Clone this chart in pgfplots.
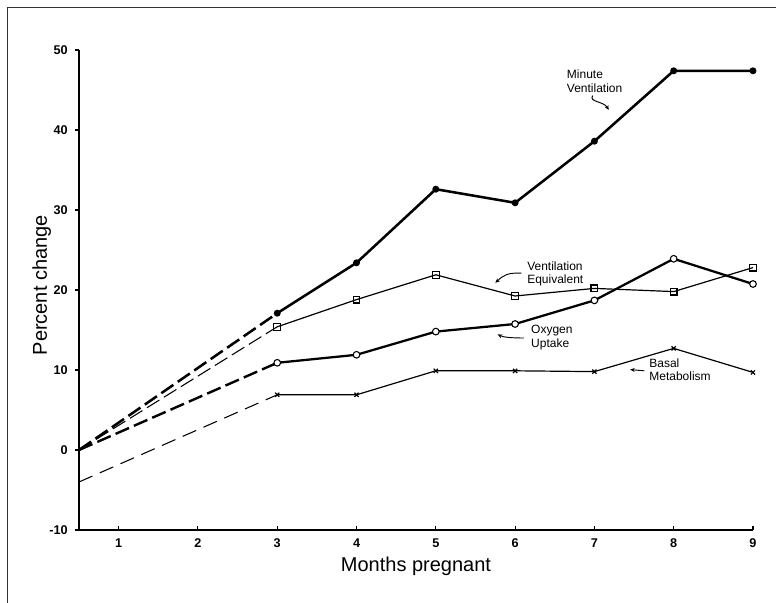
\documentclass[border=0pt]{standalone}
\usepackage{pgfplots}
\pgfplotsset{compat=1.18}
\usepackage{fontspec}
\setmainfont{Liberation Sans}
\usetikzlibrary{arrows.meta}
\begin{document}
\begin{tikzpicture}
\begin{axis}[
  at={(0,0)}, anchor=south west,
  scale only axis, width=505.5pt, height=360pt,
  xmin=0.5, xmax=9, ymin=-10, ymax=50,
  axis lines=left, axis line style={-, line width=1.1pt},
  xtick={1,...,9}, ytick={-10,0,10,20,30,40,50},
  xtick align=inside, ytick align=outside,
  major tick length=3pt,
  tick style={line width=0.8pt, black},
  /pgf/number format/assume math mode=true,
  ticklabel style={font=\fontsize{9.5}{11}\selectfont\bfseries},
  xticklabel style={yshift=-3pt},
  yticklabel style={xshift=-2pt},
  xlabel={Months pregnant}, ylabel={Percent change},
  label style={font=\fontsize{15}{18}\selectfont},
  xlabel style={at={(axis description cs:0.5,0)}, anchor=center, yshift=-27pt},
  ylabel style={at={(axis description cs:0,0.51)}, anchor=center, rotate=0, yshift=28pt, xshift=0pt},
  clip=false,
]
% Minute ventilation
\addplot[black, line width=1.9pt, dash pattern=on 11pt off 4pt] coordinates {(0.5,0) (3,17.1)};
\addplot[black, line width=1.9pt, mark=*, mark size=1.6pt] coordinates {
(3,17.1) (4,23.4) (5,32.6) (6,30.9) (7,38.6) (8,47.4) (9,47.4)};
% Oxygen uptake
\addplot[black, line width=1.8pt, dash pattern=on 11pt off 4pt] coordinates {(0.5,0) (3,10.9)};
\addplot[black, line width=1.7pt, mark=*, mark size=2.5pt, mark options={fill=white, line width=0.8pt}] coordinates {
(3,10.9) (4,11.9) (5,14.8) (6,15.75) (7,18.7) (8,23.9) (9,20.75)};
% Ventilation equivalent
\addplot[black, line width=0.8pt, dash pattern=on 11pt off 4pt] coordinates {(0.5,0) (3,15.4)};
\addplot[black, line width=0.9pt, mark=square, mark size=2.5pt, mark options={fill=white, line width=0.9pt}] coordinates {
(3,15.4) (4,18.8) (5,21.9) (6,19.25) (7,20.2) (8,19.8) (9,22.8)};
% Basal metabolism
\addplot[black, line width=0.8pt, dash pattern=on 11pt off 6pt] coordinates {(0.5,-4.0) (3,6.9)};
\addplot[black, line width=0.9pt, mark=x, mark size=2.2pt, mark options={line width=0.9pt}] coordinates {
(3,6.9) (4,6.9) (5,9.9) (6,9.9) (7,9.8) (8,12.7) (9,9.7)};
% annotations
\node[anchor=west, align=left, font=\fontsize{9}{10}\selectfont, inner sep=0pt] at (axis cs:6.65,46.1) {Minute\\Ventilation};
\draw[-{Stealth[length=3.5pt,width=3pt]}, line width=0.7pt] (axis cs:6.98,44.3) .. controls (axis cs:6.92,43.5) and (axis cs:7.12,43.6) .. (axis cs:7.18,42.5);
\node[anchor=west, align=left, font=\fontsize{9}{10}\selectfont, inner sep=0pt] at (axis cs:6.15,22.0) {Ventilation\\Equivalent};
\draw[-{Stealth[length=3.5pt,width=3pt]}, line width=0.7pt] (axis cs:6.08,22.1) .. controls (axis cs:5.9,22.2) and (axis cs:5.85,21.8) .. (axis cs:5.75,20.9);
\node[anchor=west, align=left, font=\fontsize{9}{10}\selectfont, inner sep=0pt] at (axis cs:6.2,14.05) {Oxygen\\Uptake};
\draw[-{Stealth[length=3.5pt,width=3pt]}, line width=0.7pt] (axis cs:6.11,14.0) .. controls (axis cs:5.95,14.0) and (axis cs:5.85,14.1) .. (axis cs:5.78,14.45);
\node[anchor=west, align=left, font=\fontsize{9}{10}\selectfont, inner sep=0pt] at (axis cs:7.69,10.0) {Basal\\Metabolism};
\draw[-{Stealth[length=3.5pt,width=3pt]}, line width=0.7pt] (axis cs:7.63,9.9) -- (axis cs:7.45,10.05);
\end{axis}
% scan frame
\draw[line width=0.6pt, black!80] (-54pt,-54.75pt) -- (-54pt,392.25pt) -- (522.75pt,392.25pt);
\pgfresetboundingbox
\path[use as bounding box] (-59.25pt,-54.75pt) rectangle (522.75pt,397.5pt);
\end{tikzpicture}
\end{document}
